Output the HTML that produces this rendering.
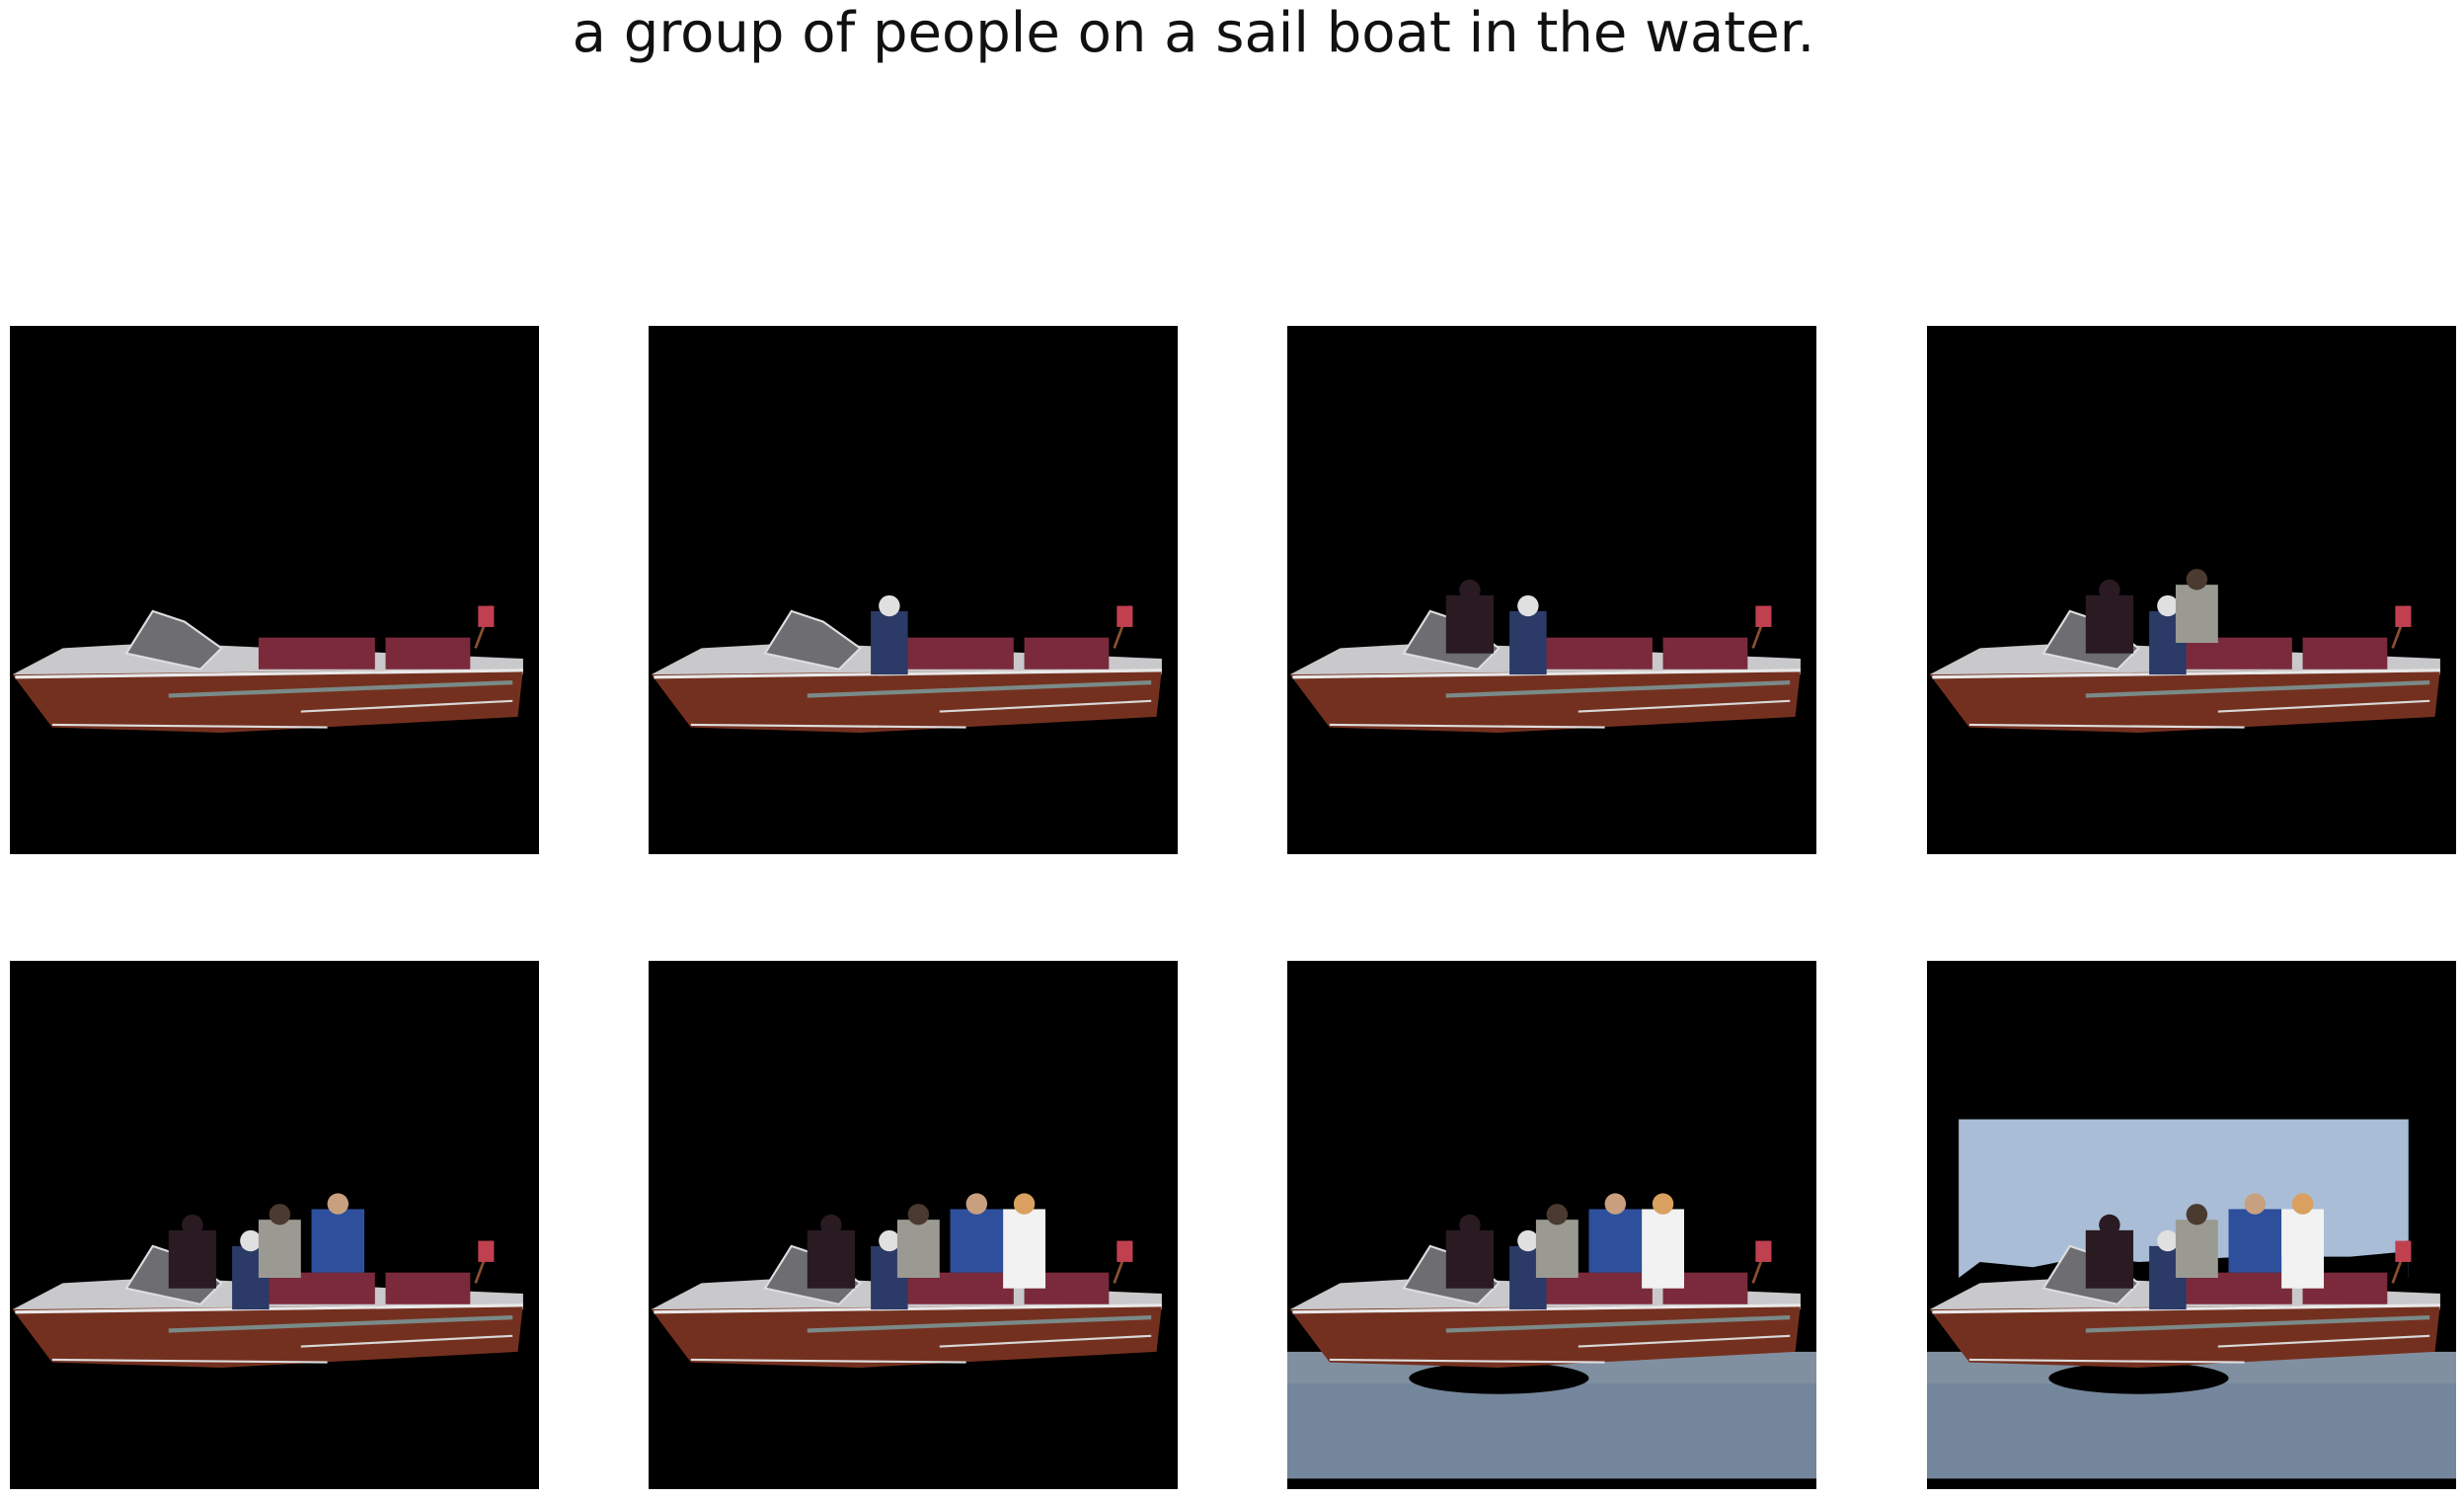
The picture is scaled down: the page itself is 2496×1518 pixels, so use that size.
<!DOCTYPE html>
<html><head><meta charset="utf-8"><style>
body{margin:0;background:#fff;width:2496px;height:1518px;position:relative;overflow:hidden;font-family:"Liberation Sans","DejaVu Sans",sans-serif}
#title{position:absolute;top:1px;left:0;width:2418px;text-align:center;font-size:56px;color:#111;font-family:"DejaVu Sans","Liberation Sans",sans-serif}
.panel{position:absolute;width:536px;height:535px;background:#000}
.panel svg{width:100%;height:100%;display:block}
</style></head><body>
<div id="title">a group of people on a sail boat in the water.</div>
<div id="grid"></div>
<script>
const colsX=[10,657,1304,1952];
const rowsY=[330,973];
const stepPeople=[0,1,2,3,4,5,5,5];
const stepWater=[0,0,0,0,0,0,1,1];
const stepSky=[0,0,0,0,0,0,0,1];
const people=[
 {x:42,y:51,w:7,h:15,c:'#2b3a66',hc:'#e0e0e0'},
 {x:30,y:48,w:9,h:14,c:'#2a1a22',hc:'#2a1a22'},
 {x:47,y:46,w:8,h:14,c:'#9a9a92',hc:'#4a3a30'},
 {x:57,y:44,w:10,h:15,c:'#2d4f9c',hc:'#c8a080'},
 {x:67,y:44,w:8,h:18,c:'#f2f2f2',hc:'#d9a060'}
];
function boat(){
 return `<polygon points="0.5,66 10,61 28,60 97,63 97,66" fill="#c9c9cc"/>
 <polygon points="22,62 27,54 33,56 40,61 36,65" fill="#6d6d72" stroke="#ddd" stroke-width="0.4"/>
 <rect x="47" y="59" width="22" height="6" fill="#7b2a3c"/>
 <rect x="71" y="59" width="16" height="6" fill="#7b2a3c"/>
 <polygon points="0.5,66 97,65 96,74 40,77 8,76" fill="#74301f"/>
 <line x1="1" y1="66.5" x2="97" y2="65.2" stroke="#e8e8e8" stroke-width="0.6"/>
 <line x1="30" y1="70" x2="95" y2="67.5" stroke="#7a8a88" stroke-width="0.8"/>
 <line x1="55" y1="73" x2="95" y2="71" stroke="#d8d8d8" stroke-width="0.4"/>
 <line x1="8" y1="75.5" x2="60" y2="76" stroke="#ddd" stroke-width="0.4"/>
 <line x1="88" y1="61" x2="91" y2="53" stroke="#8a5030" stroke-width="0.5"/>
 <rect x="88.5" y="53" width="3" height="4" fill="#c04050"/>`;
}
const grid=document.getElementById('grid');
for(let i=0;i<8;i++){
 const d=document.createElement('div');
 d.className='panel';
 
 
 d.style.left=colsX[i%4]+'px';
 d.style.top=rowsY[Math.floor(i/4)]+'px';
 let s='<svg viewBox="0 0 100 100" preserveAspectRatio="none">';
 if(stepSky[i]) s+='<rect x="6" y="30" width="85" height="30" fill="#a9bed6"/><polygon points="6,60 10,57 20,58 30,56 40,57 60,56 80,56 91,55 91,62 6,62" fill="#000"/>';
 if(stepWater[i]) s+='<rect x="0" y="74" width="100" height="24" fill="#8090a0"/><rect x="0" y="80" width="100" height="18" fill="#6d8098" opacity="0.6"/><ellipse cx="40" cy="79" rx="17" ry="3" fill="#000"/>';
 s+=boat();
 for(let p=0;p<stepPeople[i];p++){const q=people[p];
  s+=`<rect x="${q.x}" y="${q.y+3}" width="${q.w}" height="${q.h-3}" fill="${q.c}"/><circle cx="${q.x+q.w/2}" cy="${q.y+2}" r="2" fill="${q.hc}"/>`;}
 s+='</svg>';
 d.innerHTML=s;
 grid.appendChild(d);
}
</script>
</body></html>
